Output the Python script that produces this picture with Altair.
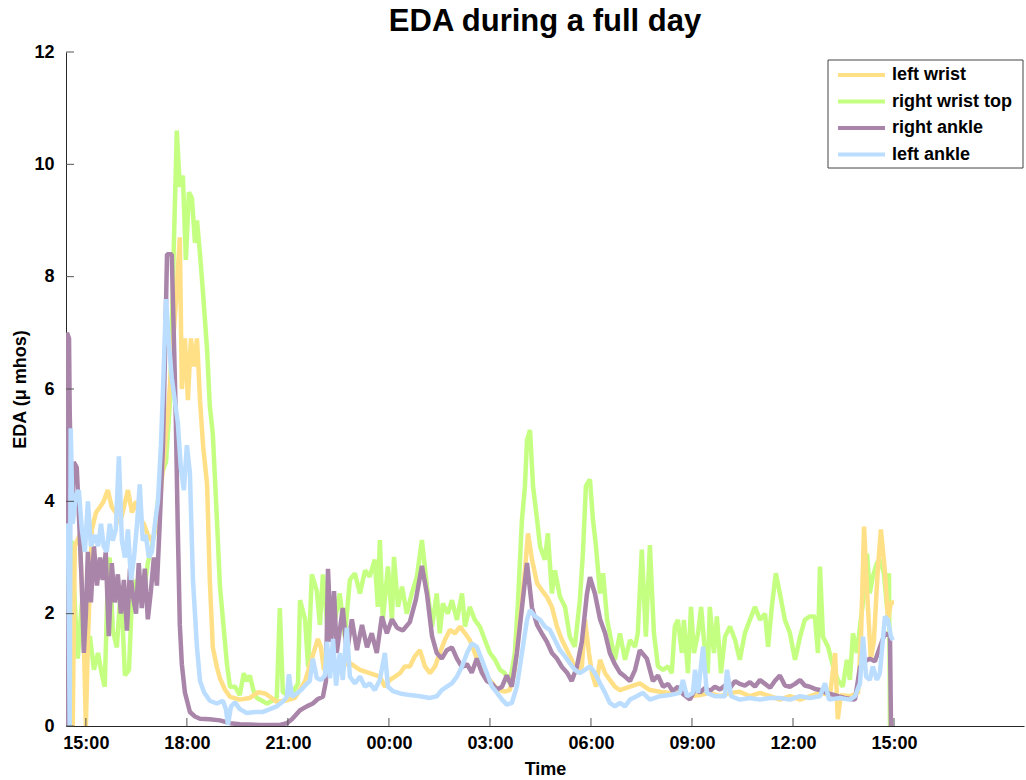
import altair as alt
import pandas as pd

FONT = "Liberation Sans"

sensors = ["left wrist", "right wrist top", "right ankle", "left ankle"]
colors = ["#FFE087", "#C5FF82", "#A985A9", "#BBDDFF"]

# (hour of day, EDA in micro-mhos); hours > 24 belong to the next day
left_wrist = [(14.41,3.4),(14.52,3.1),(14.61,0.0),(14.67,3.2),(14.82,3.4),(14.94,1.5),(15.00,0.0),(15.06,1.5),(15.18,3.5),(15.30,3.8),(15.42,3.9),(15.53,4.0),(15.65,4.2),(15.77,3.9),(15.89,3.8),(16.01,3.6),(16.13,3.9),(16.25,4.2),(16.37,3.8),(16.49,4.0),(16.60,3.7),(16.72,3.6),(16.84,3.4),(16.96,3.3),(17.08,3.5),(17.20,4.0),(17.32,4.8),(17.44,5.6),(17.55,6.5),(17.67,7.5),(17.79,8.7),(17.85,6.0),(17.94,6.9),(18.03,5.8),(18.12,6.9),(18.21,6.4),(18.30,6.9),(18.39,5.8),(18.48,5.0),(18.60,4.3),(18.68,2.6),(18.77,1.4),(18.89,1.05),(18.98,0.85),(19.13,0.65),(19.28,0.52),(19.57,0.47),(19.87,0.5),(20.11,0.6),(20.32,0.58),(20.47,0.52),(20.67,0.43),(20.91,0.45),(21.21,0.5),(21.51,0.8),(21.71,1.2),(21.89,1.55),(21.98,1.4),(22.07,1.0),(22.16,1.1),(22.25,1.18),(22.54,1.06),(22.84,1.12),(23.14,1.0),(23.43,0.94),(23.73,0.88),(23.88,0.7),(24.03,0.82),(24.18,0.88),(24.33,0.94),(24.47,1.06),(24.62,1.06),(24.77,1.24),(24.92,1.35),(25.07,1.06),(25.22,0.94),(25.37,1.06),(25.51,1.3),(25.66,1.53),(25.81,1.71),(25.96,1.65),(26.11,1.77),(26.26,1.65),(26.40,1.53),(26.55,1.3),(26.70,1.06),(26.85,0.94),(27.00,0.82),(27.15,0.7),(27.30,0.64),(27.44,0.61),(27.59,0.64),(27.74,1.0),(27.89,1.89),(28.04,2.77),(28.13,3.43),(28.25,2.96),(28.40,2.54),(28.54,2.42),(28.69,2.3),(28.84,2.12),(28.99,1.77),(29.14,1.53),(29.29,1.35),(29.43,1.18),(29.58,0.94),(29.73,1.06),(29.82,1.9),(29.94,1.3),(30.03,0.94),(30.15,0.7),(30.27,1.18),(30.42,0.94),(30.56,0.82),(30.71,0.7),(30.86,0.64),(31.16,0.7),(31.45,0.76),(31.75,0.64),(32.05,0.61),(32.34,0.59),(32.64,0.61),(32.94,0.53),(33.24,0.55),(33.53,0.59),(33.83,0.53),(34.13,0.59),(34.42,0.61),(34.72,0.53),(35.02,0.59),(35.32,0.53),(35.61,0.47),(35.91,0.53),(36.21,0.47),(36.50,0.53),(36.80,0.59),(37.10,0.55),(37.25,1.3),(37.33,0.12),(37.42,0.55),(37.69,0.53),(37.93,0.59),(38.02,1.6),(38.11,3.55),(38.20,2.4),(38.31,1.2),(38.40,1.5),(38.52,2.8),(38.61,3.5),(38.73,2.75),(38.82,1.9),(38.91,2.2),(39.00,2.2)]

right_wrist_top = [(14.58,3.3),(14.67,2.2),(14.76,1.2),(14.88,2.2),(15.00,1.3),(15.12,1.6),(15.24,1.0),(15.36,1.3),(15.48,0.9),(15.56,0.7),(15.65,2.6),(15.71,3.0),(15.80,1.7),(15.92,1.4),(16.04,2.5),(16.16,0.9),(16.28,1.0),(16.37,2.3),(16.49,2.6),(16.60,2.2),(16.72,2.4),(16.84,2.9),(16.96,3.2),(17.05,3.5),(17.14,4.0),(17.26,4.5),(17.38,4.7),(17.50,5.8),(17.61,8.5),(17.70,10.6),(17.79,9.6),(17.88,9.8),(17.97,8.3),(18.06,9.5),(18.15,9.4),(18.24,8.6),(18.30,9.0),(18.39,8.4),(18.48,7.7),(18.60,6.7),(18.68,5.7),(18.77,5.2),(18.89,3.7),(18.98,2.5),(19.10,1.7),(19.19,1.1),(19.28,0.7),(19.43,0.7),(19.57,0.55),(19.69,0.94),(19.78,0.8),(19.87,0.9),(19.99,0.6),(20.08,0.5),(20.23,0.45),(20.38,0.4),(20.53,0.45),(20.67,0.5),(20.76,2.1),(20.85,0.6),(21.00,0.55),(21.15,0.6),(21.30,0.76),(21.36,2.24),(21.51,1.9),(21.60,1.05),(21.71,2.7),(21.86,2.4),(21.95,1.8),(22.04,2.7),(22.19,1.65),(22.25,2.3),(22.40,1.89),(22.54,2.36),(22.69,1.59),(22.84,2.6),(22.99,2.72),(23.14,2.36),(23.29,2.77),(23.43,2.66),(23.58,2.96),(23.67,2.12),(23.73,3.31),(23.82,1.89),(23.97,2.84),(24.09,1.89),(24.15,3.01),(24.27,2.12),(24.39,2.48),(24.53,2.0),(24.68,2.36),(24.83,2.66),(24.98,3.31),(25.13,2.48),(25.28,1.77),(25.42,2.36),(25.51,1.65),(25.60,2.18),(25.75,2.0),(25.87,2.24),(26.02,1.89),(26.17,2.36),(26.26,1.77),(26.40,2.12),(26.55,1.89),(26.70,1.77),(26.85,1.53),(27.00,1.3),(27.15,1.18),(27.30,1.0),(27.44,0.94),(27.59,0.76),(27.74,1.3),(27.83,2.18),(27.95,3.67),(28.04,4.27),(28.10,5.09),(28.19,5.27),(28.28,4.27),(28.40,3.67),(28.49,3.19),(28.63,2.96),(28.72,3.43),(28.84,2.36),(28.93,2.77),(29.08,2.3),(29.23,2.12),(29.37,1.59),(29.52,1.41),(29.67,2.24),(29.76,3.07),(29.85,4.27),(29.97,4.39),(30.06,3.67),(30.15,3.19),(30.27,2.36),(30.36,2.72),(30.48,1.89),(30.56,1.65),(30.71,1.18),(30.86,1.65),(31.01,1.18),(31.16,1.53),(31.31,1.41),(31.39,1.65),(31.51,3.14),(31.63,1.59),(31.75,3.22),(31.87,1.65),(31.99,1.06),(32.14,1.0),(32.29,1.06),(32.40,0.94),(32.49,1.77),(32.58,1.89),(32.70,1.3),(32.76,1.89),(32.88,0.94),(32.97,2.12),(33.06,1.3),(33.18,1.65),(33.27,2.12),(33.39,1.3),(33.47,0.94),(33.53,2.12),(33.65,1.3),(33.74,1.95),(33.86,0.94),(33.98,1.59),(34.13,1.77),(34.28,1.53),(34.42,1.18),(34.57,1.65),(34.72,1.89),(34.87,2.12),(35.02,1.89),(35.17,2.0),(35.26,1.41),(35.37,2.12),(35.49,2.72),(35.61,2.36),(35.76,1.89),(35.91,1.65),(36.06,1.18),(36.21,1.59),(36.35,1.89),(36.50,1.95),(36.65,1.95),(36.74,1.3),(36.80,2.84),(36.89,1.59),(37.04,1.41),(37.19,1.06),(37.33,0.82),(37.48,0.7),(37.60,1.18),(37.69,0.82),(37.78,1.65),(37.90,1.3),(37.99,1.77),(38.11,2.36),(38.20,3.07),(38.28,2.36),(38.37,2.66),(38.49,2.9),(38.58,2.96),(38.70,2.72),(38.79,2.12),(38.85,2.72),(38.88,0.0)]

right_ankle = [(14.41,0.0),(14.44,7.0),(14.50,6.9),(14.52,5.6),(14.58,3.7),(14.64,4.7),(14.73,4.6),(14.79,3.8),(14.88,2.5),(14.94,1.3),(15.00,2.0),(15.06,3.1),(15.15,2.2),(15.24,3.2),(15.33,2.5),(15.42,3.0),(15.50,2.6),(15.59,3.1),(15.68,1.6),(15.77,2.9),(15.86,2.2),(15.95,2.7),(16.04,2.0),(16.13,2.6),(16.22,1.7),(16.31,2.8),(16.40,2.3),(16.49,2.0),(16.57,2.9),(16.66,2.1),(16.75,2.8),(16.84,1.9),(16.93,2.4),(17.02,3.0),(17.11,2.5),(17.20,3.7),(17.29,5.0),(17.35,6.6),(17.41,8.4),(17.55,8.4),(17.61,7.0),(17.67,5.5),(17.73,3.5),(17.79,1.8),(17.85,1.1),(17.94,0.6),(18.09,0.25),(18.24,0.17),(18.39,0.13),(18.68,0.12),(18.98,0.1),(19.28,0.05),(19.57,0.03),(20.17,0.02),(20.76,0.02),(20.97,0.05),(21.12,0.12),(21.36,0.28),(21.56,0.35),(21.74,0.4),(21.89,0.48),(22.04,0.52),(22.13,0.8),(22.19,2.8),(22.28,1.5),(22.37,2.4),(22.45,1.3),(22.54,1.7),(22.63,2.1),(22.75,1.3),(22.90,1.9),(23.05,1.35),(23.20,1.8),(23.35,1.4),(23.49,1.65),(23.64,1.3),(23.79,1.95),(23.94,1.65),(24.09,1.9),(24.24,1.75),(24.41,1.7),(24.62,1.85),(24.80,2.25),(24.98,2.85),(25.13,2.35),(25.28,1.6),(25.42,1.3),(25.57,1.2),(25.72,1.35),(25.87,1.4),(26.02,1.2),(26.17,1.05),(26.32,1.1),(26.46,0.95),(26.61,1.2),(26.76,0.95),(26.91,0.8),(27.06,0.75),(27.21,0.65),(27.36,0.7),(27.50,0.9),(27.65,0.7),(27.80,1.3),(27.95,2.1),(28.10,2.9),(28.25,2.1),(28.40,1.8),(28.54,1.65),(28.69,1.5),(28.84,1.3),(28.99,1.2),(29.14,1.05),(29.29,0.95),(29.43,0.8),(29.58,1.05),(29.73,1.5),(29.88,2.35),(29.97,2.65),(30.12,2.35),(30.27,1.9),(30.42,1.65),(30.56,1.3),(30.71,1.1),(30.86,0.95),(31.01,0.88),(31.16,0.8),(31.31,1.0),(31.45,1.35),(31.66,1.2),(31.84,0.8),(31.99,0.9),(32.14,0.7),(32.29,0.75),(32.43,0.62),(32.58,0.7),(32.73,0.57),(32.94,0.47),(33.09,0.65),(33.24,0.6),(33.39,0.68),(33.53,0.62),(33.68,0.7),(33.83,0.65),(33.98,0.72),(34.13,0.68),(34.28,0.8),(34.42,0.75),(34.57,0.72),(34.72,0.78),(34.87,0.7),(35.02,0.82),(35.17,0.75),(35.32,0.68),(35.46,0.8),(35.61,0.9),(35.76,0.72),(35.91,0.7),(36.06,0.75),(36.21,0.82),(36.35,0.72),(36.50,0.7),(36.65,0.66),(36.80,0.64),(36.95,0.6),(37.10,0.57),(37.25,0.55),(37.39,0.52),(37.54,0.5),(37.69,0.48),(37.84,0.47),(37.99,1.05),(38.14,1.15),(38.28,1.2),(38.43,1.15),(38.58,1.4),(38.73,1.65),(38.88,1.6),(38.91,0.0)]

left_ankle = [(14.41,3.6),(14.47,3.5),(14.52,0.0),(14.55,5.3),(14.61,3.6),(14.70,4.1),(14.79,4.2),(14.88,3.5),(14.97,3.1),(15.06,4.0),(15.15,3.2),(15.27,3.4),(15.36,3.2),(15.45,3.6),(15.53,3.2),(15.62,3.1),(15.71,3.6),(15.80,3.3),(15.89,3.5),(15.98,4.8),(16.07,3.3),(16.16,3.0),(16.25,3.5),(16.34,2.6),(16.43,3.0),(16.52,3.6),(16.60,4.3),(16.69,3.3),(16.78,3.4),(16.87,3.0),(16.96,3.1),(17.05,3.6),(17.14,4.0),(17.23,5.0),(17.32,6.5),(17.38,7.6),(17.47,6.8),(17.55,6.2),(17.64,5.8),(17.73,5.4),(17.82,4.6),(17.91,4.2),(18.00,5.0),(18.09,4.5),(18.18,2.6),(18.30,1.4),(18.39,0.8),(18.51,0.6),(18.68,0.45),(18.89,0.4),(19.07,0.45),(19.16,0.3),(19.22,0.02),(19.31,0.35),(19.43,0.42),(19.57,0.3),(19.78,0.23),(20.02,0.25),(20.26,0.25),(20.47,0.3),(20.67,0.35),(20.88,0.45),(20.97,0.52),(21.03,0.92),(21.12,0.52),(21.27,0.58),(21.39,0.64),(21.54,0.74),(21.65,0.8),(21.74,1.2),(21.86,0.85),(21.98,0.82),(22.10,0.9),(22.16,1.5),(22.25,0.85),(22.34,1.55),(22.43,0.72),(22.54,1.3),(22.63,0.82),(22.75,1.75),(22.84,0.88),(22.99,0.76),(23.14,0.88),(23.29,0.7),(23.43,0.76),(23.58,0.64),(23.73,0.82),(23.88,1.3),(23.97,0.7),(24.12,0.62),(24.33,0.58),(24.62,0.55),(24.92,0.53),(25.22,0.5),(25.42,0.53),(25.57,0.64),(25.72,0.7),(25.87,0.76),(26.02,0.88),(26.17,1.06),(26.32,1.3),(26.46,1.47),(26.61,1.41),(26.76,1.18),(26.91,0.94),(27.06,0.7),(27.21,0.59),(27.36,0.47),(27.50,0.38),(27.65,0.41),(27.80,0.7),(27.95,1.3),(28.10,1.89),(28.19,2.06),(28.34,1.95),(28.49,1.89),(28.63,1.77),(28.78,1.71),(28.93,1.53),(29.08,1.35),(29.23,1.24),(29.37,1.12),(29.52,1.0),(29.67,0.94),(29.82,1.0),(29.97,1.06),(30.12,0.94),(30.27,0.76),(30.42,0.59),(30.56,0.41),(30.71,0.35),(30.86,0.41),(31.01,0.35),(31.16,0.47),(31.36,0.53),(31.54,0.59),(31.75,0.47),(32.05,0.53),(32.34,0.55),(32.64,0.59),(32.73,0.82),(32.85,0.53),(33.03,0.59),(33.09,1.0),(33.18,0.59),(33.33,1.41),(33.44,0.59),(33.68,0.53),(33.98,0.53),(34.04,1.0),(34.16,0.53),(34.42,0.47),(34.72,0.5),(35.02,0.47),(35.32,0.5),(35.61,0.5),(35.91,0.47),(36.21,0.53),(36.50,0.5),(36.80,0.53),(36.95,0.76),(37.07,0.47),(37.39,0.5),(37.69,0.47),(37.84,0.53),(37.99,0.76),(38.08,1.59),(38.17,0.88),(38.28,0.82),(38.37,1.06),(38.49,0.82),(38.58,0.94),(38.73,1.95),(38.82,1.89),(38.91,1.59),(38.97,1.53)]

x_ticks = [15, 18, 21, 24, 27, 30, 33, 36, 39]
y_ticks = [0, 2, 4, 6, 8, 10, 12]
x_domain = [14.41, 42.86]
y_domain = [0, 12]

series = {
    "left wrist": left_wrist,
    "right wrist top": right_wrist_top,
    "right ankle": right_ankle,
    "left ankle": left_ankle,
}
rows = []
for name, pts in series.items():
    for h, v in pts:
        rows.append({"sensor": name, "hour": h, "eda": v})
df = pd.DataFrame(rows)

W, H = 958, 674
color_scale = alt.Scale(domain=sensors, range=colors)

xenc = alt.X(
    "hour:Q",
    scale=alt.Scale(domain=x_domain, nice=False, zero=False),
    axis=alt.Axis(
        values=x_ticks,
        labelExpr="(datum.value % 24 < 10 ? '0' : '') + (datum.value % 24) + ':00'",
        title="Time",
        ticks=False,
        grid=False,
        labelPadding=8,
        titlePadding=8,
        labelFlush=False,
    ),
)
yenc = alt.Y(
    "eda:Q",
    scale=alt.Scale(domain=y_domain, nice=False),
    axis=alt.Axis(
        values=y_ticks,
        title="EDA (μ mhos)",
        ticks=False,
        grid=False,
        labelPadding=12,
        titlePadding=4,
        labelFlush=False,
    ),
)

layers = []
for name in ["right wrist top", "left wrist", "right ankle", "left ankle"]:
    layers.append(
        alt.Chart(df)
        .transform_filter(alt.datum.sensor == name)
        .mark_line(strokeWidth=4.5, strokeJoin="bevel", clip=True)
        .encode(
            x=xenc,
            y=yenc,
            color=alt.Color("sensor:N", scale=color_scale, legend=None),
        )
    )

# inward tick marks (MATLAB style)
xt = alt.Chart(pd.DataFrame({"hour": x_ticks})).mark_rule(color="#555555", strokeWidth=1).encode(
    x=xenc, y=alt.value(H), y2=alt.value(H - 8)
)
yt = alt.Chart(pd.DataFrame({"eda": y_ticks})).mark_rule(color="#555555", strokeWidth=1).encode(
    y=yenc, x=alt.value(0), x2=alt.value(8)
)
layers += [xt, yt]

# legend box
one = pd.DataFrame({"k": [0]})
lx0, lx1, ly0, ly1 = W - 196, W - 1, 8, 116
layers.append(
    alt.Chart(one).mark_rect(fill="white", stroke="#444444", strokeWidth=1).encode(
        x=alt.value(lx0), x2=alt.value(lx1), y=alt.value(ly0), y2=alt.value(ly1)
    )
)
for i, name in enumerate(sensors):
    yy = 23 + i * 26.5
    layers.append(
        alt.Chart(one).mark_rule(strokeWidth=4, color=colors[i]).encode(
            x=alt.value(lx0 + 10), x2=alt.value(lx0 + 57), y=alt.value(yy)
        )
    )
    layers.append(
        alt.Chart(one).mark_text(
            align="left", baseline="middle", font=FONT, fontSize=18, fontWeight="bold", color="black"
        ).encode(x=alt.value(lx0 + 64), y=alt.value(yy), text=alt.value(name))
    )

chart = (
    alt.layer(*layers)
    .properties(
        width=W,
        height=H,
        autosize=alt.AutoSizeParams(type="none"),
        padding={"left": 66, "top": 52, "right": 2, "bottom": 54},
        title=alt.TitleParams(
            "EDA during a full day",
            fontSize=31,
            fontWeight="bold",
            font=FONT,
            anchor="middle",
            offset=5,
            color="black",
        ),
        background="white",
    )
    .configure_view(stroke=None)
    .configure_axis(
        domainColor="#262626",
        domainWidth=1,
        labelFont=FONT,
        labelFontSize=18,
        labelFontWeight="bold",
        labelColor="black",
        titleFont=FONT,
        titleFontSize=18,
        titleFontWeight="bold",
        titleColor="black",
    )
)

chart.save("out.html", embed_options={"renderer": "svg", "actions": False})
